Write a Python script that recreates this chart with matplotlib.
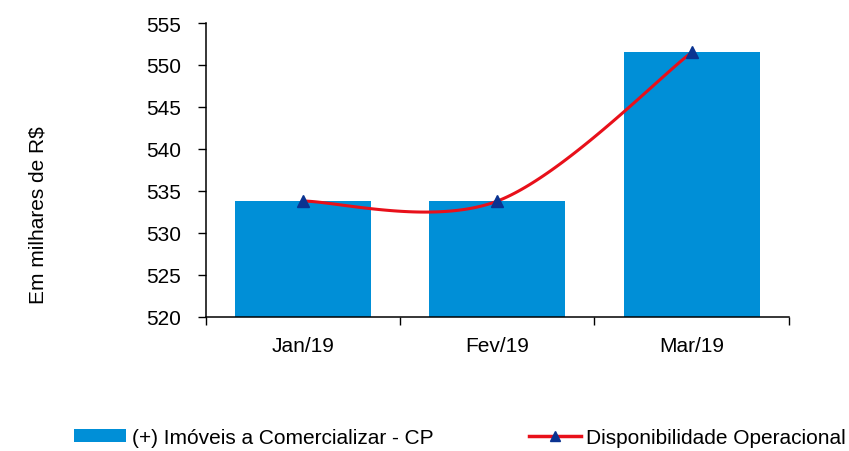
import numpy as np
import matplotlib
matplotlib.use("Agg")
import matplotlib.pyplot as plt
from matplotlib.lines import Line2D
import matplotlib.patches as mpatches

MONTHS = ["Jan/19", "Fev/19", "Mar/19"]
IMOVEIS = [533.8, 533.8, 551.5]        # bars
DISPONIBILIDADE = [533.8, 533.8, 551.5]  # smoothed line
Y_TICKS = [520, 525, 530, 535, 540, 545, 550, 555]

BAR_COLOR = "#008FD7"
LINE_COLOR = "#E8101A"
MARKER_COLOR = "#0A3391"

plt.rcParams["font.family"] = ["Liberation Sans", "DejaVu Sans"]


def smooth_curve(xs, ys, n=60):
    """Excel-like smoothed line: cubic Bezier segments with 1/6 tangents."""
    pts = np.column_stack([xs, ys]).astype(float)
    ext = np.vstack([pts[0], pts, pts[-1]])
    out = []
    t = np.linspace(0, 1, n)[:, None]
    for i in range(len(pts) - 1):
        p0, p3 = ext[i + 1], ext[i + 2]
        c1 = p0 + (ext[i + 2] - ext[i]) / 6
        c2 = p3 - (ext[i + 3] - ext[i + 1]) / 6
        seg = ((1 - t) ** 3) * p0 + 3 * ((1 - t) ** 2) * t * c1 \
            + 3 * (1 - t) * t ** 2 * c2 + t ** 3 * p3
        out.append(seg)
    curve = np.vstack(out)
    return curve[:, 0], curve[:, 1]


fig = plt.figure(figsize=(8.49, 4.52), dpi=100)
ax = fig.add_axes([0.2426, 0.2965, 0.6864, 0.6504])

x = np.arange(len(MONTHS))
ax.bar(x, IMOVEIS, width=0.70, color=BAR_COLOR, zorder=2)

cx, cy = smooth_curve(x, DISPONIBILIDADE)
ax.plot(cx, cy, color=LINE_COLOR, lw=2.2, zorder=3)
ax.plot(x, DISPONIBILIDADE, ls="none", marker="^", ms=8,
        color=MARKER_COLOR, zorder=4)

ax.set_xlim(-0.5, len(MONTHS) - 0.5)
ax.set_ylim(Y_TICKS[0], Y_TICKS[-1])
ax.set_yticks(Y_TICKS)
ax.set_xticks(x)
ax.set_xticklabels(MONTHS)
ax.set_xticks(np.arange(-0.5, len(MONTHS)), minor=True)
ax.tick_params(axis="x", which="major", length=0, pad=14, labelsize=15)
ax.tick_params(axis="x", which="minor", length=6, direction="out",
               width=1, color="black")
ax.tick_params(axis="y", length=6, direction="out", width=1,
               labelsize=15, pad=12)
for s in ("top", "right"):
    ax.spines[s].set_visible(False)
for s in ("left", "bottom"):
    ax.spines[s].set_linewidth(1.1)

ax.set_ylabel("Em milhares de R$", fontsize=15)
ax.yaxis.set_label_coords(-0.272, 0.35)

handles = [
    mpatches.Patch(facecolor=BAR_COLOR, edgecolor="none",
                   label="(+) Imóveis a Comercializar - CP"),
    Line2D([0], [0], color=LINE_COLOR, lw=2.5, marker="^", ms=7,
           markerfacecolor=MARKER_COLOR, markeredgecolor=MARKER_COLOR,
           label="Disponibilidade Operacional"),
]
fig.legend(handles=handles, loc="center", bbox_to_anchor=(0.542, 0.03),
           ncol=2, frameon=False, handlelength=2.5,
           handleheight=0.55, handletextpad=0.25, columnspacing=4.6,
           prop={"size": 15})

fig.savefig("out.png", dpi=100)
